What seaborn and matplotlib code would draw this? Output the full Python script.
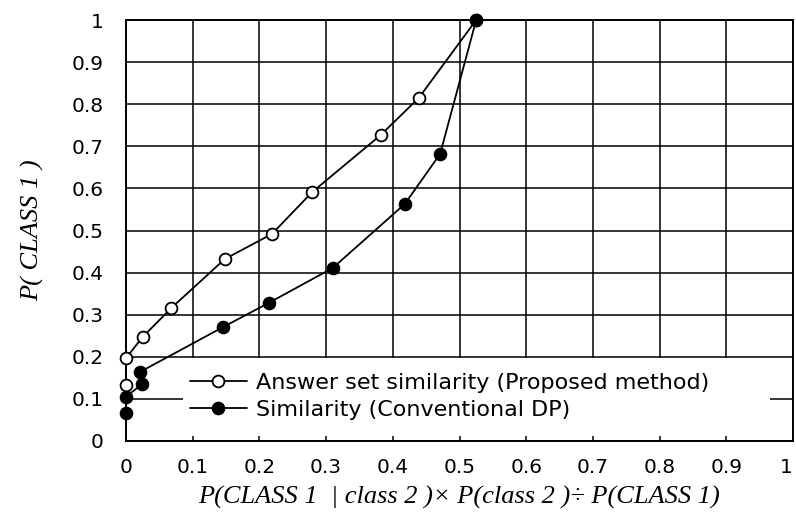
import matplotlib
matplotlib.use("Agg")
import matplotlib.pyplot as plt
from matplotlib.patches import Rectangle
from matplotlib.ticker import MultipleLocator
import seaborn as sns
import pandas as pd

# ---- data ----
proposed_x = [0.0, 0.0, 0.025, 0.068, 0.148, 0.219, 0.279, 0.382, 0.439, 0.525]
proposed_y = [0.133, 0.197, 0.247, 0.316, 0.432, 0.492, 0.591, 0.727, 0.815, 1.0]
conventional_x = [0.0, 0.0, 0.024, 0.021, 0.146, 0.214, 0.310, 0.418, 0.471, 0.525]
conventional_y = [0.067, 0.105, 0.135, 0.164, 0.271, 0.328, 0.411, 0.563, 0.682, 1.0]
tick_values = [0.0, 0.1, 0.2, 0.3, 0.4, 0.5, 0.6, 0.7, 0.8, 0.9, 1.0]
tick_labels = ["0", "0.1", "0.2", "0.3", "0.4", "0.5", "0.6", "0.7", "0.8", "0.9", "1"]
label_proposed = "Answer set similarity (Proposed method)"
label_conventional = "Similarity (Conventional DP)"
xlabel = "P(CLASS 1  | class 2 )\u00d7 P(class 2 )\u00f7 P(CLASS 1)"
ylabel = "P( CLASS 1 )"

sns.set_style("white")
plt.rcParams["font.family"] = ["DejaVu Sans"]
plt.rcParams["text.color"] = "black"

fig = plt.figure(figsize=(7.96, 5.13), dpi=100)
ax = fig.add_axes([126 / 796, 1 - 441 / 513, (793 - 126) / 796, (441 - 20) / 513])

df_p = pd.DataFrame({"x": proposed_x, "y": proposed_y})
df_c = pd.DataFrame({"x": conventional_x, "y": conventional_y})

sns.lineplot(data=df_p, x="x", y="y", sort=False, estimator=None, ax=ax,
             color="black", linewidth=1.3, marker="o", markersize=8.5,
             markerfacecolor="white", markeredgecolor="black", markeredgewidth=1.3,
             label=label_proposed, zorder=3, clip_on=False)
sns.lineplot(data=df_c, x="x", y="y", sort=False, estimator=None, ax=ax,
             color="black", linewidth=1.3, marker="o", markersize=8.5,
             markerfacecolor="black", markeredgecolor="black", markeredgewidth=1.3,
             label=label_conventional, zorder=3, clip_on=False)

ax.set_xlim(0, 1)
ax.set_ylim(0, 1)
ax.set_xticks(tick_values, tick_labels)
ax.set_yticks(tick_values, tick_labels)
ax.xaxis.set_minor_locator(MultipleLocator(0.05))
ax.yaxis.set_minor_locator(MultipleLocator(0.05))
ax.tick_params(axis="both", which="major", length=0, labelsize=14.5, colors="black")
ax.tick_params(axis="x", which="major", pad=12)
ax.tick_params(axis="y", which="major", pad=16)
ax.tick_params(axis="both", which="minor", direction="in", length=4, width=1.1, color="black")
ax.grid(True, which="major", color="black", linewidth=1.1)
ax.set_axisbelow(True)
for s in ax.spines.values():
    s.set_visible(True)
    s.set_color("black")
    s.set_linewidth(1.4)

ax.get_xticklabels()[-1].set_horizontalalignment("right")

# white box behind the legend
ax.add_patch(Rectangle((57 / 667, 5 / 421), (770 - 183) / 667, (436 - 358) / 421,
                       transform=ax.transAxes, facecolor="white", edgecolor="none", zorder=1))

leg = ax.legend(loc="upper left", bbox_to_anchor=((190 - 126) / 667, (441 - 373) / 421),
                frameon=False, fontsize=16, handlelength=2.55, handletextpad=0.4,
                labelspacing=0.3, borderpad=0, borderaxespad=0)
for t in leg.get_texts():
    t.set_color("black")

ax.set_xlabel(xlabel, fontsize=19, fontstyle="italic", family=["Liberation Serif"],
              labelpad=7, color="black")
ax.set_ylabel(ylabel, fontsize=19, fontstyle="italic", family=["Liberation Serif"],
              labelpad=20, color="black")

fig.savefig("out.png", dpi=100, facecolor="white")
